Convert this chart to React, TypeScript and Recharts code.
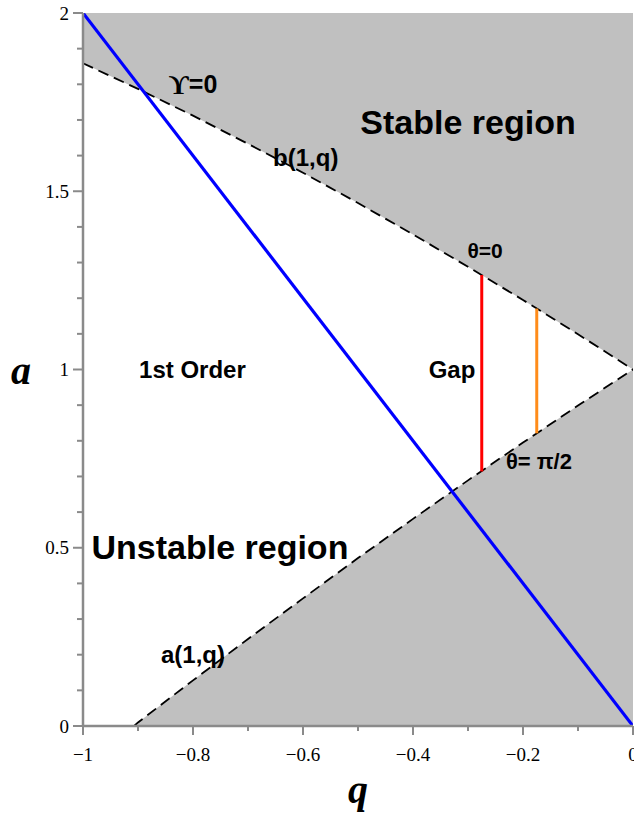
import React from "react";
import {
  ComposedChart,
  Area,
  Line,
  XAxis,
  YAxis,
  ReferenceDot,
  Label,
} from "recharts";

// characteristic curves of order 1
const Q_B = [-1, -0.9, -0.8, -0.7, -0.6, -0.5, -0.4, -0.3, -0.2, -0.1, 0];
const B_VALUES = [1.859, 1.787, 1.712, 1.633, 1.552, 1.467, 1.379, 1.288, 1.195, 1.099, 1.0];

const Q_A = [-0.907, -0.9, -0.8, -0.7, -0.6, -0.5, -0.4, -0.3, -0.2, -0.1, 0];
const A_VALUES = [0, 0.01, 0.128, 0.244, 0.358, 0.471, 0.581, 0.689, 0.795, 0.899, 1.0];

// Upsilon = 0 line
const Q_UPS = [-1, 0];
const UPS_VALUES = [2, 0];

// gap markers
const Q_RED = -0.275;
const RED_VALUES = [0.714, 1.265];
const Q_ORANGE = -0.175;
const ORANGE_VALUES = [0.821, 1.171];

const X_TICKS = [-1, -0.9, -0.8, -0.7, -0.6, -0.5, -0.4, -0.3, -0.2, -0.1, 0];
const X_LABELS = [-1, -0.8, -0.6, -0.4, -0.2, 0];
const Y_TICKS = [
  0, 0.1, 0.2, 0.3, 0.4, 0.5, 0.6, 0.7, 0.8, 0.9, 1, 1.1, 1.2, 1.3, 1.4, 1.5,
  1.6, 1.7, 1.8, 1.9, 2,
];
const Y_LABELS = [0, 0.5, 1, 1.5, 2];

const bData = Q_B.map((q, i) => ({ q, b: B_VALUES[i] }));
const aData = Q_A.map((q, i) => ({ q, a: A_VALUES[i] }));
const upsData = Q_UPS.map((q, i) => ({ q, v: UPS_VALUES[i] }));
const redData = RED_VALUES.map((v) => ({ q: Q_RED, v }));
const orangeData = ORANGE_VALUES.map((v) => ({ q: Q_ORANGE, v }));

const SANS = "'Liberation Sans', Arial, Helvetica, sans-serif";
const SERIF = "'Liberation Serif', 'Times New Roman', serif";
const AXIS = "#8a8a8a";
const GREY = "#c0c0c0";

const isIn = (list: number[], v: number) => list.some((t) => Math.abs(t - v) < 1e-6);
const fmt = (v: number) => String(v).replace("-", "\u2212");

const XTick = (props: any) => {
  const { x, y, payload } = props;
  const major = isIn(X_LABELS, payload.value);
  return (
    <g>
      <line x1={x} y1={y} x2={x} y2={y + (major ? 9 : 5)} stroke={AXIS} strokeWidth={2} />
      {major && (
        <text
          x={x}
          y={y + 28}
          textAnchor="middle"
          dominantBaseline="central"
          fontFamily={SERIF}
          fontSize={19}
          fill="#000"
        >
          {fmt(payload.value)}
        </text>
      )}
    </g>
  );
};

const YTick = (props: any) => {
  const { x, y, payload } = props;
  const major = isIn(Y_LABELS, payload.value);
  return (
    <g>
      <line x1={x - (major ? 10 : 6)} y1={y} x2={x} y2={y} stroke={AXIS} strokeWidth={2} />
      {major && (
        <text
          x={x - 14}
          y={y}
          textAnchor="end"
          dominantBaseline="central"
          fontFamily={SERIF}
          fontSize={19}
          fill="#000"
        >
          {fmt(payload.value)}
        </text>
      )}
    </g>
  );
};

const tag =
  (text: string, size: number) =>
  (p: any) => (
    <text
      x={p.cx}
      y={p.cy}
      textAnchor="middle"
      dominantBaseline="central"
      fontFamily={SANS}
      fontWeight="bold"
      fontSize={size}
      fill="#000"
    >
      {text}
    </text>
  );

const upsilonTag = (p: any) => (
  <text
    x={p.cx}
    y={p.cy}
    textAnchor="middle"
    dominantBaseline="central"
    fontWeight="bold"
    fill="#000"
  >
    <tspan fontFamily={SERIF} fontSize={28}>
      {"\u03D2"}
    </tspan>
    <tspan fontFamily={SANS} fontSize={25}>
      =0
    </tspan>
  </text>
);

export default function App() {
  return (
    <div
      style={{
        position: "absolute",
        left: 0,
        top: 0,
        width: 634,
        height: 815,
        overflow: "hidden",
        background: "#fff",
      }}
    >
      <ComposedChart
        width={660}
        height={815}
        margin={{ top: 13, right: 27, bottom: 0, left: 0 }}
      >
        <XAxis
          dataKey="q"
          type="number"
          domain={[-1, 0]}
          ticks={X_TICKS}
          interval={0}
          allowDataOverflow
          height={89}
          tickSize={0}
          tickMargin={0}
          tickLine={false}
          tick={<XTick />}
          axisLine={{ stroke: AXIS, strokeWidth: 2.5 }}
        >
          <Label
            value="q"
            position="insideBottom"
            offset={12}
            fontFamily={SERIF}
            fontSize={40}
            fontWeight="bold"
            fontStyle="italic"
            fill="#000"
          />
        </XAxis>
        <YAxis
          type="number"
          domain={[0, 2]}
          ticks={Y_TICKS}
          interval={0}
          allowDataOverflow
          width={83}
          tickSize={0}
          tickMargin={0}
          tickLine={false}
          tick={<YTick />}
          axisLine={{ stroke: AXIS, strokeWidth: 2.5 }}
        >
          <Label
            value="a"
            position="insideLeft"
            offset={11}
            fontFamily={SERIF}
            fontSize={40}
            fontWeight="bold"
            fontStyle="italic"
            fill="#000"
          />
        </YAxis>

        <Area
          data={bData}
          dataKey={(d: any) => [d.b, 2]}
          type="linear"
          stroke="none"
          fill={GREY}
          fillOpacity={1}
          isAnimationActive={false}
        />
        <Area
          data={aData}
          dataKey={(d: any) => [0, d.a]}
          type="linear"
          stroke="none"
          fill={GREY}
          fillOpacity={1}
          isAnimationActive={false}
        />

        <Line
          data={bData}
          dataKey="b"
          type="linear"
          stroke="#000"
          strokeWidth={1.8}
          strokeDasharray="11 6"
          dot={false}
          isAnimationActive={false}
        />
        <Line
          data={aData}
          dataKey="a"
          type="linear"
          stroke="#000"
          strokeWidth={1.8}
          strokeDasharray="11 6"
          dot={false}
          isAnimationActive={false}
        />
        <Line
          data={upsData}
          dataKey="v"
          type="linear"
          stroke="#0000ff"
          strokeWidth={3.2}
          dot={false}
          isAnimationActive={false}
        />
        <Line
          data={redData}
          dataKey="v"
          type="linear"
          stroke="#ff0000"
          strokeWidth={3}
          dot={false}
          isAnimationActive={false}
        />
        <Line
          data={orangeData}
          dataKey="v"
          type="linear"
          stroke="#ff8c1a"
          strokeWidth={3}
          dot={false}
          isAnimationActive={false}
        />

        <ReferenceDot x={-0.8} y={1.8} r={0} shape={upsilonTag} />
        <ReferenceDot x={-0.3} y={1.695} r={0} shape={tag("Stable region", 34)} />
        <ReferenceDot x={-0.595} y={1.596} r={0} shape={tag("b(1,q)", 24)} />
        <ReferenceDot x={-0.269} y={1.335} r={0} shape={tag("\u03B8=0", 21)} />
        <ReferenceDot x={-0.801} y={1.0} r={0} shape={tag("1st Order", 24)} />
        <ReferenceDot x={-0.329} y={1.0} r={0} shape={tag("Gap", 24)} />
        <ReferenceDot x={-0.171} y={0.741} r={0} shape={tag("\u03B8= \u03C0/2", 22)} />
        <ReferenceDot x={-0.751} y={0.502} r={0} shape={tag("Unstable region", 34)} />
        <ReferenceDot x={-0.8} y={0.2} r={0} shape={tag("a(1,q)", 24)} />
      </ComposedChart>
    </div>
  );
}
